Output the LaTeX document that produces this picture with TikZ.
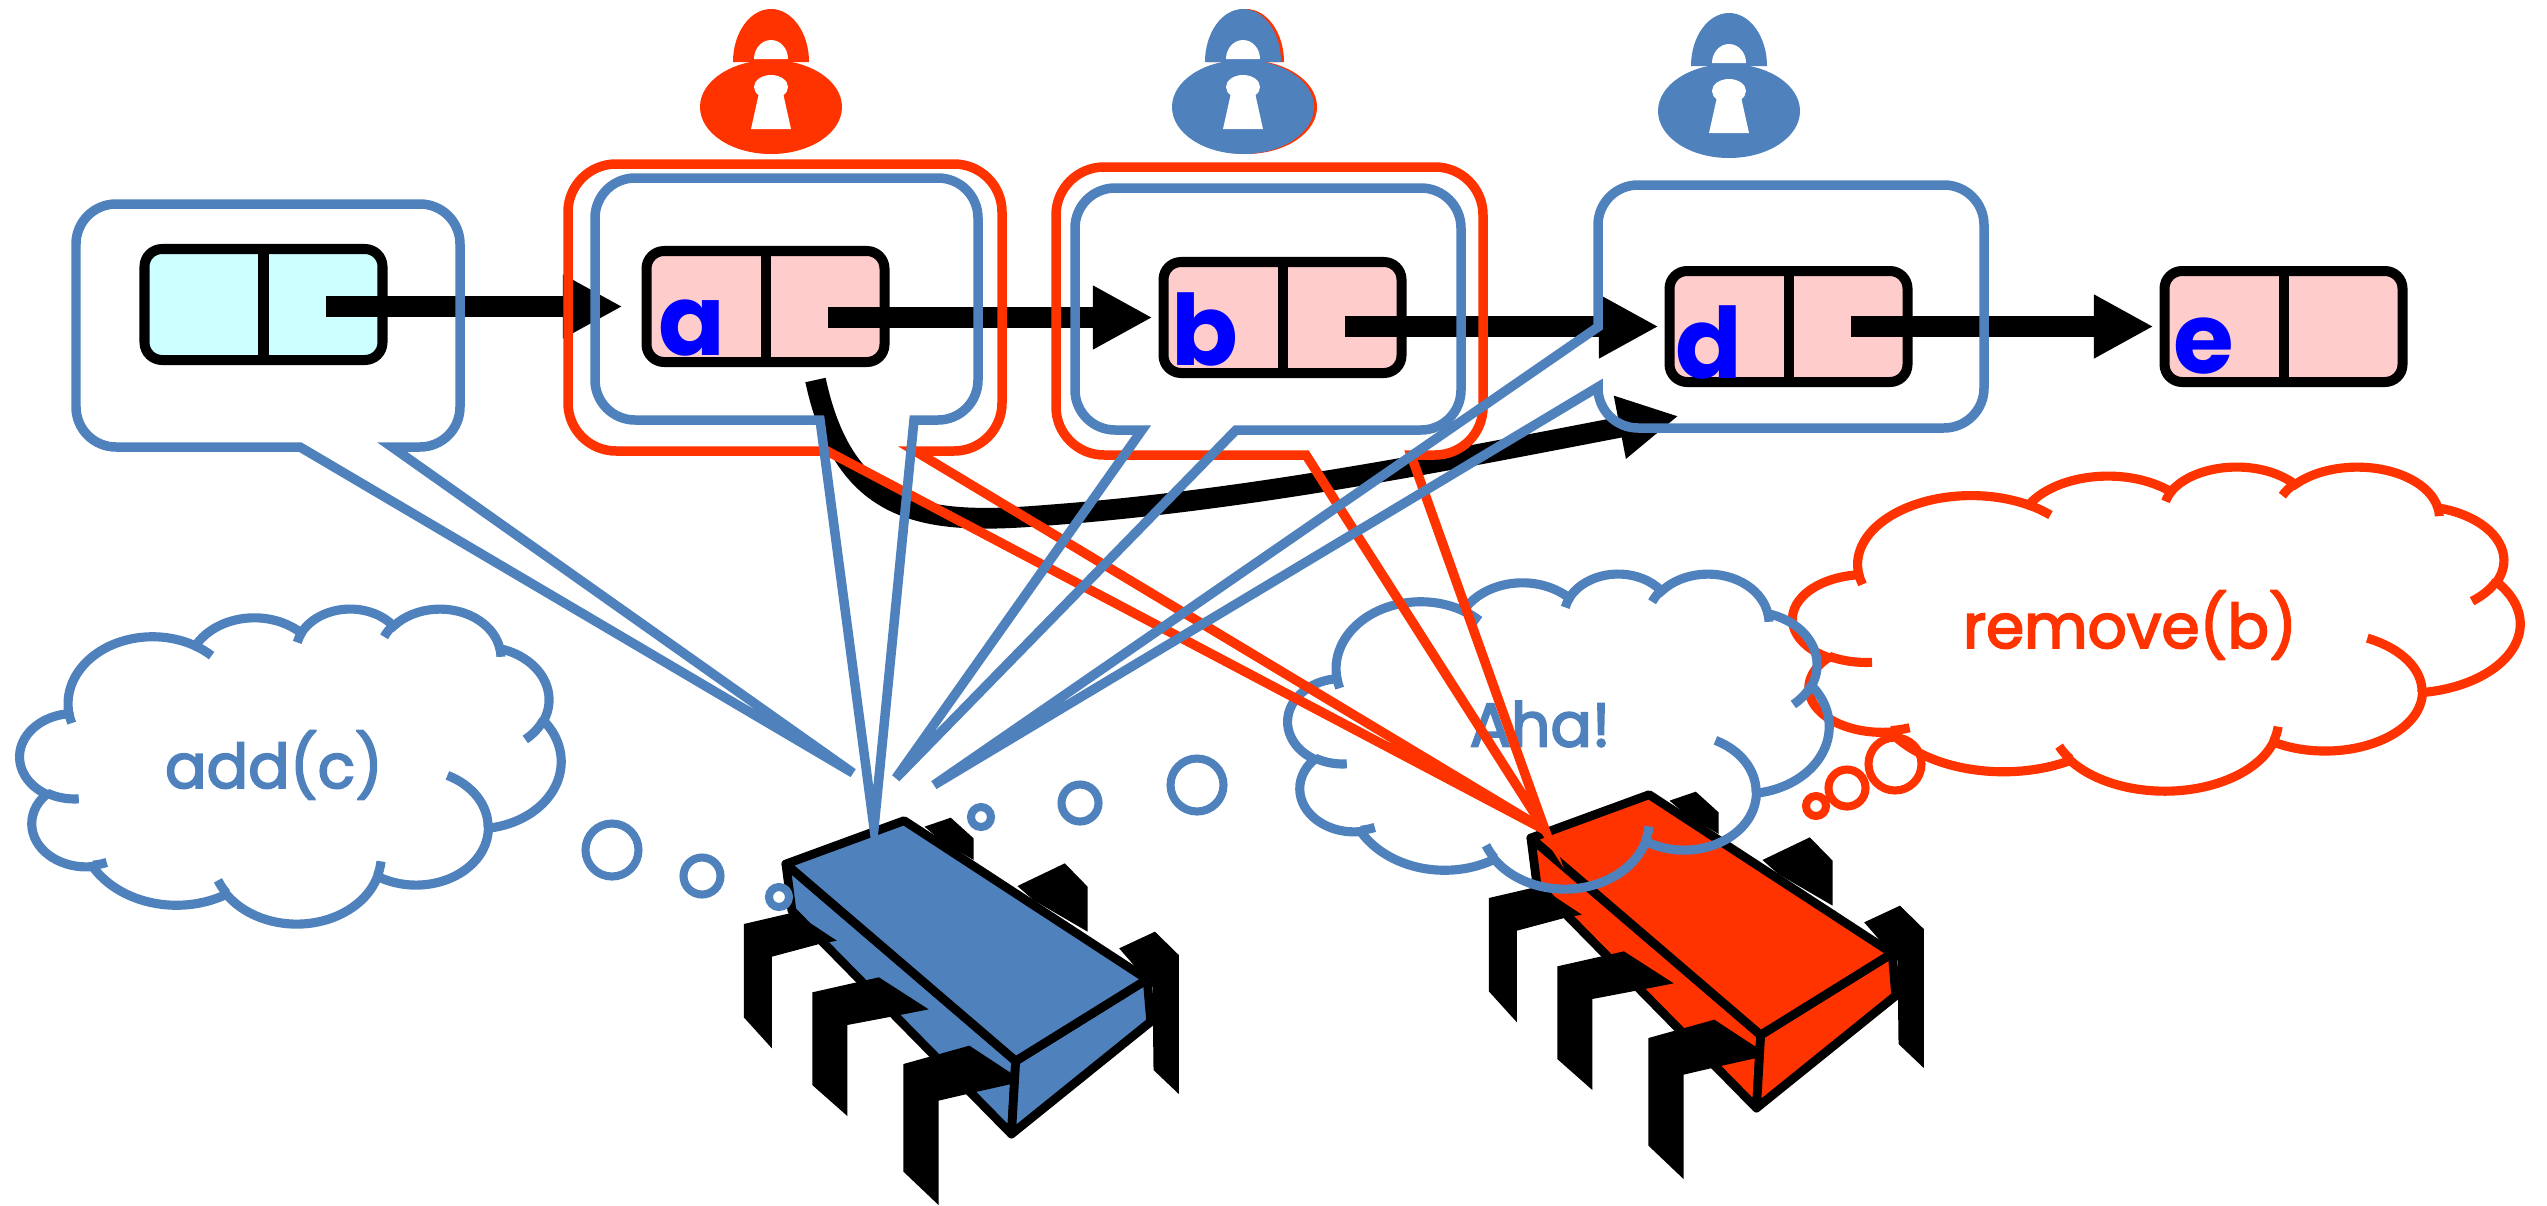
\documentclass[tikz,border=0pt]{standalone}
\usepackage{fontspec}
\setmainfont{Poppins}
\newfontfamily\thoughtfont{Poppins}[FakeBold=3]
\usetikzlibrary{arrows.meta,calc}

\definecolor{cblue}{HTML}{4F81BD}
\definecolor{cred}{HTML}{FF3300}
\definecolor{cletter}{HTML}{0000FF}
\definecolor{ccyan}{HTML}{CCFFFF}
\definecolor{cpink}{HTML}{FFCCCC}

% ---- cloud outline (preset cloud path in a 4320 x 4320 box, visual arc angles) ----
\def\cpa#1#2#3{atand((#1)*sind((#3)/60000),(#2)*cosd((#3)/60000))}
\def\carc#1#2#3#4{arc[x radius=\fpeval{#1/10},y radius=\fpeval{#2/10},start angle=\fpeval{round(\cpa{#1}{#2}{#3},3)},end angle=\fpeval{round(\cpa{#1}{#2}{#3+#4}+360*ceil((\cpa{#1}{#2}{#3}-\cpa{#1}{#2}{#3+#4})/360),3)}]}
\edef\cloudmain{(390,1437)
 \carc{6753}{9190}{-11429249}{7426832}
 \carc{5333}{7267}{-8646143}{5396714}
 \carc{4365}{5945}{-8748475}{5983381}
 \carc{4857}{6595}{-7859164}{7034504}
 \carc{5333}{7273}{-4722533}{6541615}
 \carc{6775}{9220}{-2776035}{7816140}
 \carc{5785}{7867}{37501}{6842000}
 \carc{6752}{9215}{1347096}{6910353}
 \carc{7720}{10543}{3974558}{4542661}
 \carc{4360}{5918}{-16496525}{8804134}
 \carc{4345}{5945}{-14809710}{9151131}
 -- cycle}
\edef\cloudticks{
 (469.3,2617.7) \carc{4345}{5945}{5204520}{1585770}
 (692.8,3489.9) \carc{4360}{5918}{4416628}{686848}
 (1647.8,3909) \carc{6752}{9215}{8257449}{844866}
 (2882.7,3475.1) \carc{6752}{9215}{387196}{959901}
 (3412.9,2295.4) \carc{5785}{7867}{-4217541}{4255042}
 (4179.8,1535.4) \carc{5333}{7273}{1819082}{1665090}
 (3832.4,542.6) \carc{4857}{6595}{-824660}{891534}
 (2907.8,395.2) \carc{4857}{6595}{-8950887}{1091722}
 (2214.1,472) \carc{4365}{5945}{-9809656}{1061181}
 (1400,519.2) \carc{6753}{9190}{-4002417}{739161}
 (412.7,1578.9) \carc{6753}{9190}{9459261}{711490}
}
\newcommand\drawcloud[5]{% x0 y0 width height colour
 \begin{scope}[shift={(#1,#2)},xscale=#3/4320,yscale=#4/4320]
  \draw[cloudline=#5] \cloudmain;
  \draw[cloudline=#5] \cloudticks;
 \end{scope}}

% ---- rounded callouts with a wedge tail ----
% bottom tail: x0 y0 x1 y1 r baseLeft baseRight tip
\newcommand\calloutB[8]{(#1+#5,#2) -- (#3-#5,#2) arc[start angle=270,end angle=360,radius=#5]
 -- (#3,#4-#5) arc[start angle=0,end angle=90,radius=#5]
 -- (#7,#4) -- (#8) -- (#6,#4)
 -- (#1+#5,#4) arc[start angle=90,end angle=180,radius=#5]
 -- (#1,#2+#5) arc[start angle=180,end angle=270,radius=#5] -- cycle}
% left tail: x0 y0 x1 y1 r baseTop baseBottom tip
\newcommand\calloutL[8]{(#1+#5,#2) -- (#3-#5,#2) arc[start angle=270,end angle=360,radius=#5]
 -- (#3,#4-#5) arc[start angle=0,end angle=90,radius=#5]
 -- (#1+#5,#4) arc[start angle=90,end angle=180,radius=#5]
 -- (#1,#7) -- (#8) -- (#1,#6)
 -- (#1,#2+#5) arc[start angle=180,end angle=270,radius=#5] -- cycle}

% ---- chip-shaped bug ----
\newcommand\drawbug[3]{%
 \begin{scope}[shift={(#1,#2)},xscale=0.35075,yscale=0.33333,line width=2.5pt,line join=round]
  \fill (640,140) -- (715,113) -- (780,175) -- (780,240) -- (690,185) -- cycle;
  \fill (905,318) -- (1040,250) -- (1105,320) -- (1105,455) -- (950,360) -- cycle;
  \fill (1195,505) -- (1297,455) -- (1365,525) -- (1365,942) -- (1293,870) -- (1290,620) -- cycle;
  \filldraw[fill=#3] (245,252) -- (900,843) -- (888,1062) -- (262,392) -- cycle;
  \filldraw[fill=#3] (900,843) -- (1275,598) -- (1285,725) -- (888,1062) -- cycle;
  \filldraw[fill=#3] (245,252) -- (582,122) -- (1275,598) -- (900,843) -- cycle;
  \fill (125,432) -- (268,397) -- (390,482) -- (340,492) -- (205,530) -- (205,805) -- (125,712) -- cycle;
  \fill (320,637) -- (510,592) -- (652,688) -- (560,707) -- (420,735) -- (420,1008) -- (320,915) -- cycle;
  \fill (580,852) -- (768,797) -- (888,880) -- (888,912) -- (790,935) -- (680,962) -- (680,1275) -- (580,1175) -- cycle;
 \end{scope}}

\tikzset{
 pics/lock/.style={code={
  \fill[#1] (-38,-45) arc[start angle=180,end angle=360,x radius=38,y radius=53] -- cycle;
  \fill[white] (-17,-48) arc[start angle=180,end angle=360,x radius=17,y radius=19] -- cycle;
  \fill[#1] (0,0) ellipse[x radius=71,y radius=47];
  \fill[white] (0,-20) ellipse[x radius=17,y radius=12];
  \fill[white] (-12,-14) -- (12,-14) -- (20,22) -- (-20,22) -- cycle;
 }},
 cloudline/.style={draw=#1,line width=2.6pt},
 bubble/.style={draw=#1,line width=2.3pt},
 callblue/.style={draw=cblue,line width=2.7pt},
 callred/.style={draw=cred,line width=2.7pt},
 listnode/.style={draw=black,line width=2.85pt,rounded corners=5pt,minimum width=23.8mm,minimum height=11.1mm,inner sep=0pt},
 divider/.style={draw=black,line width=2.85pt},
 ptr/.style={line width=5.9pt,-{Triangle[length=17pt,width=17pt]},shorten >=0.6mm},
 letter/.style={font=\fontsize{28}{30}\selectfont\bfseries,text=cletter,anchor=base west,inner sep=0pt},
 cloudtext/.style={font=\thoughtfont\fontsize{17.5}{20}\selectfont,inner sep=0pt},
}

\begin{document}
\begin{tikzpicture}[x=0.1mm,y=-0.1mm]
\useasboundingbox (0,0) rectangle (2547,1205);

% bugs
\drawbug{700}{780}{cblue}
\drawbug{1445}{754}{cred}

% thought clouds
\drawcloud{1793}{466}{727}{324}{cred}
\drawcloud{1288}{573}{541}{315}{cblue}
\drawcloud{20}{608}{541}{315}{cblue}
\node[cloudtext,text=cblue] (addc) at (274,765) {add(c)};
\node[cloudtext,text=cblue] (aha) at (1540,724) {Aha!};
\node[cloudtext,text=cred] (rem) at (2130,625) {remove(b)};

% thought bubbles
\draw[bubble=cblue] (612,850) circle[radius=26.5] (702,876) circle[radius=18.5] (779,897) circle[radius=10];
\draw[bubble=cblue] (981,817) circle[radius=10] (1080,803) circle[radius=18.5] (1197,785) circle[radius=26.5];
\draw[bubble=cred] (1816,806) circle[radius=10] (1847,788) circle[radius=18.5] (1895,764) circle[radius=26.5];

% list nodes
\node[listnode,fill=ccyan] (n0) at (263.5,304.5) {};
\node[listnode,fill=cpink] (a) at (765.5,306.5) {};
\node[listnode,fill=cpink] (b) at (1282.5,317.5) {};
\node[listnode,fill=cpink] (d) at (1788.5,326.5) {};
\node[listnode,fill=cpink] (e) at (2283.5,326.5) {};
\foreach \n in {n0,a,b,d,e} \draw[divider] (\n.north) -- (\n.south);
\node[letter] (la) at ([xshift=1.6mm,yshift=1.2mm]a.south west) {a};
\node[letter] (lb) at ([xshift=1.2mm,yshift=1.3mm]b.south west) {b};
\node[letter] (ld) at ([xshift=1.0mm,yshift=0.9mm]d.south west) {d};
\node[letter] (le) at ([xshift=1.3mm,yshift=1.4mm]e.south west) {e};

% next pointers
\foreach \n in {n0,a,b,d} \coordinate (o\n) at ($(\n.center)!0.5!(\n.east)$);
\draw[ptr,shorten >=1.9mm] (on0 |- a.west) -- (a.west);
\draw[ptr] (oa |- b.west) -- (b.west);
\draw[ptr] (ob |- d.west) -- (d.west);
\draw[ptr] (od |- e.west) -- (e.west);

% redirected pointer of a
\coordinate (cs) at ([xshift=5mm,yshift=-1.3mm]a.south);
\coordinate (cm) at (1050,515);
\coordinate (ce) at ([xshift=1.4mm,yshift=-2.9mm]d.south west);
\draw[ptr,shorten >=0pt] (cs) .. controls +(30,140) and +(-120,10) .. (cm)
  .. controls +(200,-15) and +(-229,44) .. (ce);

% callout tips
\coordinate (t1) at (853,773);
\coordinate (t2) at (874,828);
\coordinate (t3) at (896,778);
\coordinate (t4) at (934,785);
\coordinate (tr) at (1545,830);

% red thread's view
\draw[callred] \calloutB{568}{164}{1002}{451}{48}{827}{915}{tr};
\draw[callred] \calloutB{1056}{167}{1483}{455}{48}{1306}{1411}{tr};
% blue thread's view
\draw[callblue] \calloutB{76}{204}{460}{447}{40}{300}{392}{t1};
\draw[callblue] \calloutB{595}{178}{978}{420}{40}{820}{914}{t2};
\draw[callblue] \calloutB{1075}{188}{1461}{430}{40}{1142}{1236}{t3};
\draw[callblue] \calloutL{1598}{185}{1984}{428}{40}{327}{387}{t4};

% locks
\pic at (771,107) {lock=cred};
\pic at (1246,107) {lock=cred};
\pic at (1243,107) {lock=cblue};
\pic at (1729,111) {lock=cblue};
\end{tikzpicture}
\end{document}
